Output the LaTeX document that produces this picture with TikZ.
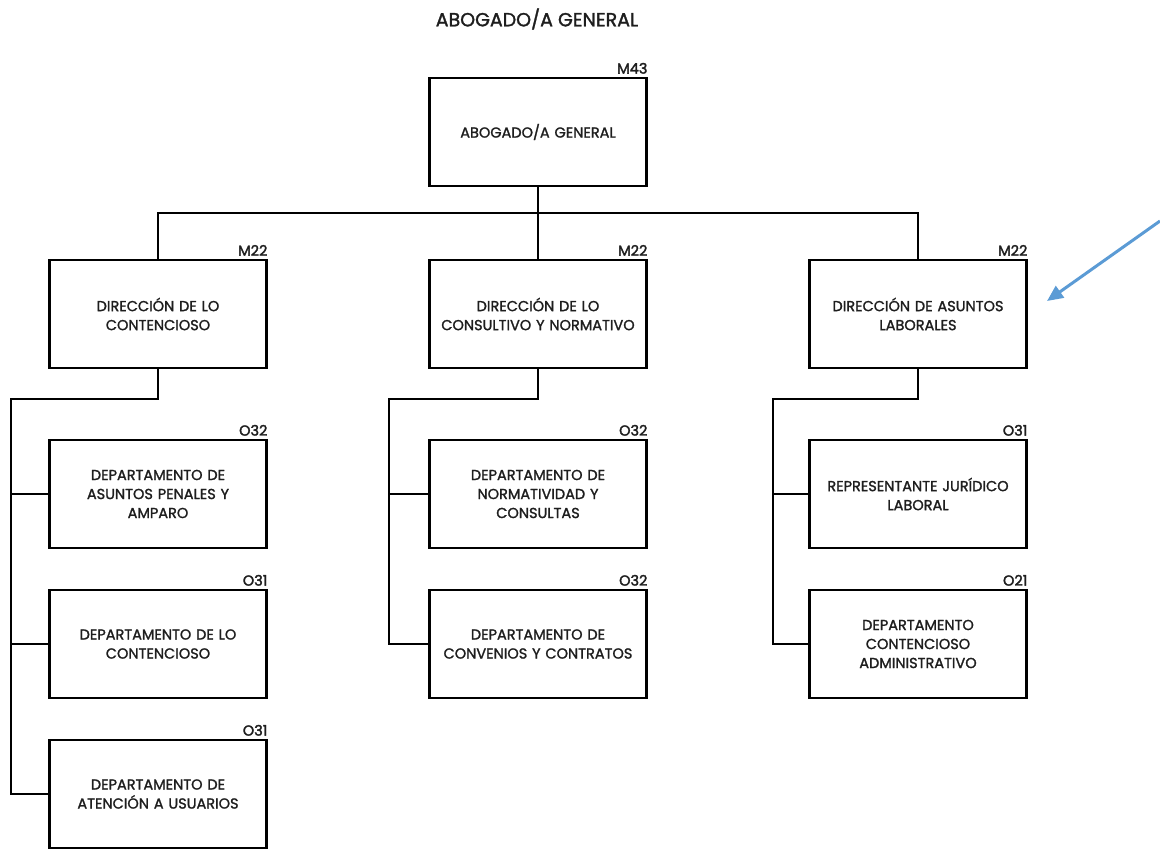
\documentclass[tikz,border=0pt]{standalone}
\usepackage{fontspec}
\setmainfont{Poppins}
\newfontfamily\medfont{Poppins}[FakeBold=1.5]
\newfontfamily\codefont{Poppins}[FakeBold=2.2]
\usetikzlibrary{positioning, arrows.meta}
\definecolor{textcol}{RGB}{30, 30, 30}
\definecolor{markcol}{RGB}{91, 155, 213}

\begin{document}
\begin{tikzpicture}[
    x=1pt, y=-1pt,
    unit/.style = {rectangle, draw=black, line width=2.2pt, minimum width=217pt, minimum height=108pt,
                   text width=210pt, align=center, font=\medfont\fontsize{14.5}{19}\selectfont, text=textcol, inner sep=0pt},
    code/.style = {anchor=south east, font=\codefont\fontsize{14.5}{14.5}\selectfont, text=textcol, inner sep=0pt, yshift=3pt},
    wire/.style = {draw=black, line width=2.2pt},
    pointer/.style = {draw=markcol, line width=3pt, -{Triangle[length=16pt, width=14pt]}}
]
    \useasboundingbox (0,0) rectangle (1160,850);

    % Title
    \node[font=\medfont\fontsize{19}{19}\selectfont, text=textcol] (title) at (537,19) {ABOGADO/A GENERAL};

    % TOP LEVEL
    \node[unit] (abogado) at (538,132) {ABOGADO/A GENERAL};
    \node[code] (m43) at (abogado.north east) {M43};

    % DIRECCIONES
    \node[unit] (contencioso) at (158,314) {DIRECCIÓN DE LO\\CONTENCIOSO};
    \node[code] (m22a) at (contencioso.north east) {M22};

    \node[unit] (consultivo) at (538,314) {DIRECCIÓN DE LO\\CONSULTIVO Y NORMATIVO};
    \node[code] (m22b) at (consultivo.north east) {M22};

    \node[unit] (laborales) at (918,314) {DIRECCIÓN DE ASUNTOS\\LABORALES};
    \node[code] (m22c) at (laborales.north east) {M22};

    % DEPARTAMENTOS - left column
    \node[unit] (penales) at (158,494) {DEPARTAMENTO DE\\ASUNTOS PENALES Y\\AMPARO};
    \node[code] (o32a) at (penales.north east) {O32};

    \node[unit] (depcont) at (158,644) {DEPARTAMENTO DE LO\\CONTENCIOSO};
    \node[code] (o31a) at (depcont.north east) {O31};

    \node[unit] (usuarios) at (158,794) {DEPARTAMENTO DE\\ATENCIÓN A USUARIOS};
    \node[code] (o31b) at (usuarios.north east) {O31};

    % DEPARTAMENTOS - middle column
    \node[unit] (normatividad) at (538,494) {DEPARTAMENTO DE\\NORMATIVIDAD Y\\CONSULTAS};
    \node[code] (o32b) at (normatividad.north east) {O32};

    \node[unit] (convenios) at (538,644) {DEPARTAMENTO DE\\CONVENIOS Y CONTRATOS};
    \node[code] (o32c) at (convenios.north east) {O32};

    % DEPARTAMENTOS - right column
    \node[unit] (representante) at (918,494) {REPRESENTANTE JURÍDICO\\LABORAL};
    \node[code] (o31c) at (representante.north east) {O31};

    \node[unit] (administrativo) at (918,644) {DEPARTAMENTO\\CONTENCIOSO\\ADMINISTRATIVO};
    \node[code] (o21) at (administrativo.north east) {O21};

    % Spine coordinates
    \coordinate (busrow) at (538,213);
    \coordinate (spineL) at (11,399);
    \coordinate (spineM) at (389,399);
    \coordinate (spineR) at (773,399);

    % WIRES - top level
    \draw[wire] (abogado.south) -- (consultivo.north);
    \draw[wire] (contencioso.north) |- (busrow) -| (laborales.north);

    % WIRES - left column
    \draw[wire] (contencioso.south) |- (spineL) |- (usuarios.west);
    \draw[wire] (spineL |- penales.west) -- (penales.west);
    \draw[wire] (spineL |- depcont.west) -- (depcont.west);

    % WIRES - middle column
    \draw[wire] (consultivo.south) |- (spineM) |- (convenios.west);
    \draw[wire] (spineM |- normatividad.west) -- (normatividad.west);

    % WIRES - right column
    \draw[wire] (laborales.south) |- (spineR) |- (administrativo.west);
    \draw[wire] (spineR |- representante.west) -- (representante.west);

    % Pointer
    \coordinate (pointfrom) at (1160,221);
    \coordinate (pointto) at (1047,301);
    \draw[pointer] (pointfrom) -- (pointto);

\end{tikzpicture}
\end{document}
